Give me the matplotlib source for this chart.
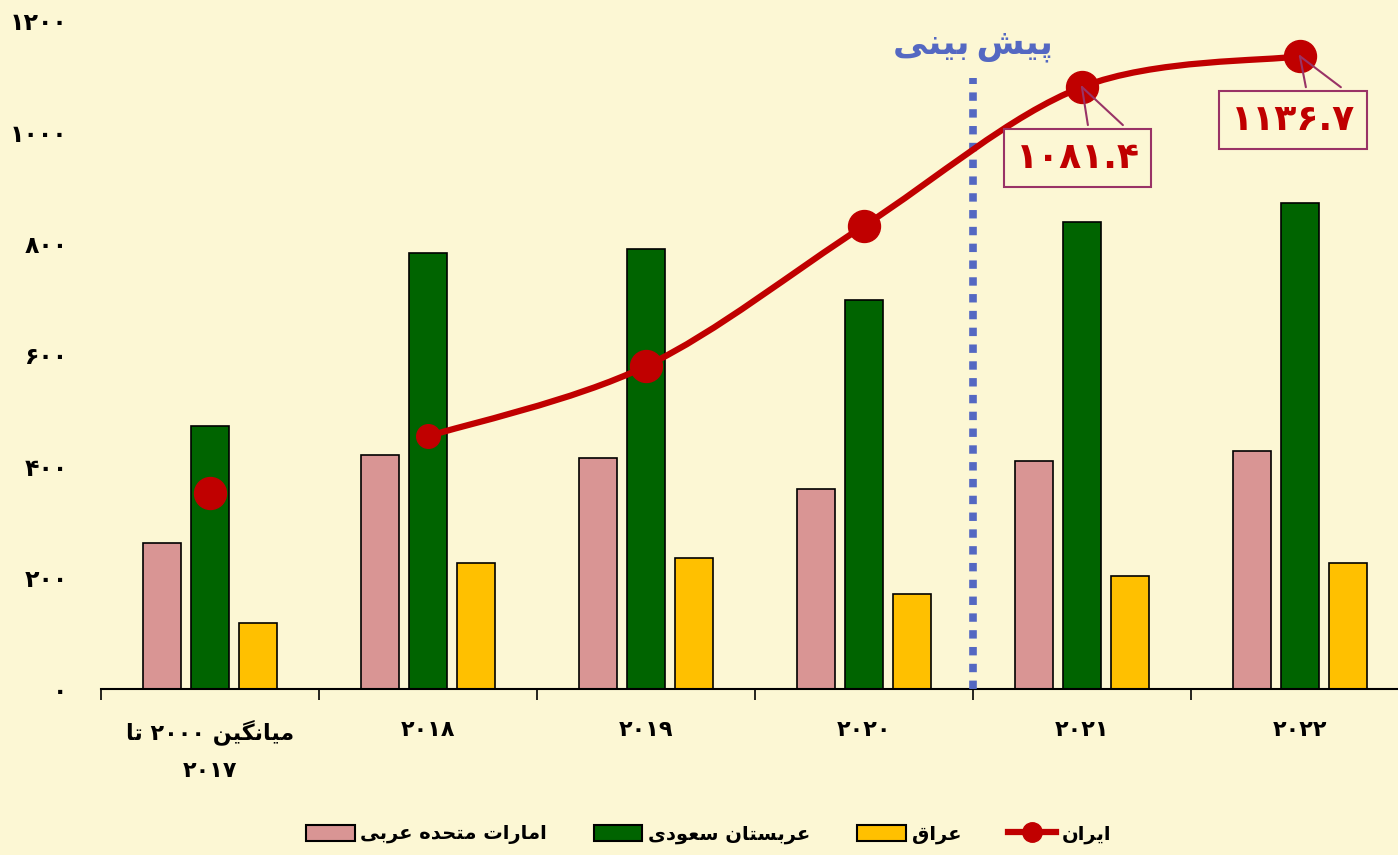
import matplotlib
matplotlib.use("Agg")
import matplotlib.pyplot as plt
from matplotlib.path import Path
from matplotlib.patches import PathPatch
from matplotlib.lines import Line2D
from matplotlib.patches import Patch

# data
CATEGORIES = ["میانگین ۲۰۰۰ تا\n۲۰۱۷", "۲۰۱۸", "۲۰۱۹", "۲۰۲۰", "۲۰۲۱", "۲۰۲۲"]
UAE = [262, 420, 415, 359, 410, 428]
SAUDI = [472, 783, 790, 699, 839, 873]
IRAQ = [119, 226, 235, 171, 203, 226]
IRAN_AVG = 352
IRAN = [454, 580, 832, 1081.4, 1136.7]
IRAN_LABELS = {3: "۱۰۸۱.۴", 4: "۱۱۳۶.۷"}
Y_TICKS = [0, 200, 400, 600, 800, 1000, 1200]
SERIES_NAMES = ["امارات متحده عربی", "عربستان سعودی", "عراق", "ایران"]
FORECAST = "پیش\u200cبینی"

BG = "#FCF7D4"
PINK = "#D99594"
GREEN = "#006400"
YELLOW = "#FFC000"
RED = "#C00000"
BLUE = "#5468C2"
PURPLE = "#993366"

PERSIAN_DIGITS = "۰۱۲۳۴۵۶۷۸۹"

# presentation forms: isolated, final, initial, medial
FORMS = {
    "ا": ("\uFE8D", "\uFE8E", None, None),
    "ب": ("\uFE8F", "\uFE90", "\uFE91", "\uFE92"),
    "پ": ("\uFB56", "\uFB57", "\uFB58", "\uFB59"),
    "ت": ("\uFE95", "\uFE96", "\uFE97", "\uFE98"),
    "ح": ("\uFEA1", "\uFEA2", "\uFEA3", "\uFEA4"),
    "د": ("\uFEA9", "\uFEAA", None, None),
    "ر": ("\uFEAD", "\uFEAE", None, None),
    "س": ("\uFEB1", "\uFEB2", "\uFEB3", "\uFEB4"),
    "ش": ("\uFEB5", "\uFEB6", "\uFEB7", "\uFEB8"),
    "ع": ("\uFEC9", "\uFECA", "\uFECB", "\uFECC"),
    "ق": ("\uFED5", "\uFED6", "\uFED7", "\uFED8"),
    "گ": ("\uFB92", "\uFB93", "\uFB94", "\uFB95"),
    "م": ("\uFEE1", "\uFEE2", "\uFEE3", "\uFEE4"),
    "ن": ("\uFEE5", "\uFEE6", "\uFEE7", "\uFEE8"),
    "ه": ("\uFEE9", "\uFEEA", "\uFEEB", "\uFEEC"),
    "و": ("\uFEED", "\uFEEE", None, None),
    "ی": ("\uFBFC", "\uFBFD", "\uFBFE", "\uFBFF"),
}


def shape_line(text):
    """join persian letters and put them in visual order"""
    out = []
    for i, c in enumerate(text):
        if c not in FORMS:
            # zero width non-joiner: keep a small gap
            out.append("\u2009" if c == "\u200c" else c)
            continue
        prev = text[i - 1] if i > 0 else ""
        nxt = text[i + 1] if i + 1 < len(text) else ""
        join_prev = prev in FORMS and FORMS[prev][2] is not None
        join_next = FORMS[c][2] is not None and nxt in FORMS
        iso, fin, ini, med = FORMS[c]
        if join_prev and join_next:
            out.append(med)
        elif join_prev:
            out.append(fin)
        elif join_next:
            out.append(ini)
        else:
            out.append(iso)
    out = out[::-1]
    # digit runs stay left to right
    res, run = [], []
    for c in out:
        if c in PERSIAN_DIGITS or (c == "." and run):
            run.append(c)
        else:
            res.extend(run[::-1])
            run = []
            res.append(c)
    res.extend(run[::-1])
    return "".join(res)


def fa(text):
    return "\n".join(shape_line(t) for t in text.split("\n"))


def to_fa_num(v):
    return "".join(PERSIAN_DIGITS[int(d)] for d in str(v))


plt.rcParams["font.family"] = ["DejaVu Sans"]
plt.rcParams["font.weight"] = "bold"

fig = plt.figure(figsize=(13.98, 8.55), dpi=100, facecolor=BG)
ax = fig.add_axes([101 / 1398, 166 / 855, 1 - 101 / 1398, 668 / 855])
ax.set_facecolor(BG)

x = list(range(len(CATEGORIES)))
w = 0.175
off = 0.22
ax.bar([i - off for i in x], UAE, w, color=PINK, edgecolor="black", lw=1.2, zorder=2)
ax.bar(x, SAUDI, w, color=GREEN, edgecolor="black", lw=1.2, zorder=2)
ax.bar([i + off for i in x], IRAQ, w, color=YELLOW, edgecolor="black", lw=1.2, zorder=2)

# forecast divider
ax.vlines(3.5, 0, 1097, colors=BLUE, lw=5.5, linestyles=(0, (1.1, 1.1)), zorder=3)
ax.text(3.5, 1157, fa(FORECAST), color=BLUE, fontsize=25, ha="center",
        va="center", fontweight="bold")

# smoothed Iran line (excel style bezier through the points)
ix = x[1:]
pts = list(zip(ix, IRAN))
verts = [pts[0]]
codes = [Path.MOVETO]
for k in range(len(pts) - 1):
    p0 = pts[k - 1] if k > 0 else pts[k]
    p1 = pts[k]
    p2 = pts[k + 1]
    p3 = pts[k + 2] if k + 2 < len(pts) else pts[k + 1]
    c1 = (p1[0] + (p2[0] - p0[0]) / 6, p1[1] + (p2[1] - p0[1]) / 6)
    c2 = (p2[0] - (p3[0] - p1[0]) / 6, p2[1] - (p3[1] - p1[1]) / 6)
    verts += [c1, c2, p2]
    codes += [Path.CURVE4] * 3
ax.add_patch(PathPatch(Path(verts, codes), fill=False, edgecolor=RED, lw=4.5,
                       zorder=4, capstyle="round"))
ax.plot([0], [IRAN_AVG], "o", color=RED, ms=23, zorder=5)
ax.plot(ix[:1], IRAN[:1], "o", color=RED, ms=17, zorder=5)
ax.plot(ix[1:], IRAN[1:], "o", color=RED, ms=23, zorder=5)

# callout labels
box_off = {3: (-3.2, -51), 4: (-4.7, -46)}
leg_off = {3: -27.4, 4: -22.3}
for k, lab in IRAN_LABELS.items():
    px, py = ix[k], IRAN[k]
    for dx in (4.3, 29.5):
        ax.annotate("", xy=(px, py), xytext=(dx, leg_off[k]),
                    textcoords="offset points",
                    arrowprops=dict(arrowstyle="-", color=PURPLE, lw=1.5,
                                    shrinkA=0, shrinkB=0), zorder=6)
    ax.annotate(lab, xy=(px, py), xytext=box_off[k], textcoords="offset points",
                ha="center", va="center", fontsize=26, color=RED,
                fontweight="bold", zorder=7,
                bbox=dict(boxstyle="square,pad=0.33", fc=BG, ec=PURPLE, lw=1.5))

ax.set_xlim(-0.5, 5.45)
ax.set_ylim(0, 1200)
ax.set_yticks(Y_TICKS)
ax.set_yticklabels([to_fa_num(v) for v in Y_TICKS], fontsize=17,
                   fontweight="bold")
ax.tick_params(axis="y", length=0, pad=24)
ax.set_xticks([i - 0.5 for i in x])
ax.set_xticklabels([])
ax.tick_params(axis="x", which="major", length=8, width=1.2, direction="out")
ax.set_xticks(x, minor=True)
ax.set_xticklabels([fa(c) for c in CATEGORIES], minor=True, fontsize=16,
                   fontweight="bold", va="top", linespacing=2.0)
ax.tick_params(axis="x", which="minor", length=0, pad=22)
for s in ["top", "right", "left"]:
    ax.spines[s].set_visible(False)
ax.spines["bottom"].set_linewidth(1.5)

handles = [
    Patch(fc=PINK, ec="black", lw=1.5),
    Patch(fc=GREEN, ec="black", lw=1.5),
    Patch(fc=YELLOW, ec="black", lw=1.5),
    Line2D([], [], color=RED, lw=4.5, marker="o", ms=14),
]
fig.legend(handles, [fa(n) for n in SERIES_NAMES], loc="center",
           bbox_to_anchor=(0.507, 0.024), ncol=4, frameon=False,
           prop=dict(size=14, weight="bold"), handlelength=2.5,
           handleheight=0.9, handletextpad=0.3, columnspacing=2.4)

fig.savefig("out.png", dpi=100, facecolor=BG)
